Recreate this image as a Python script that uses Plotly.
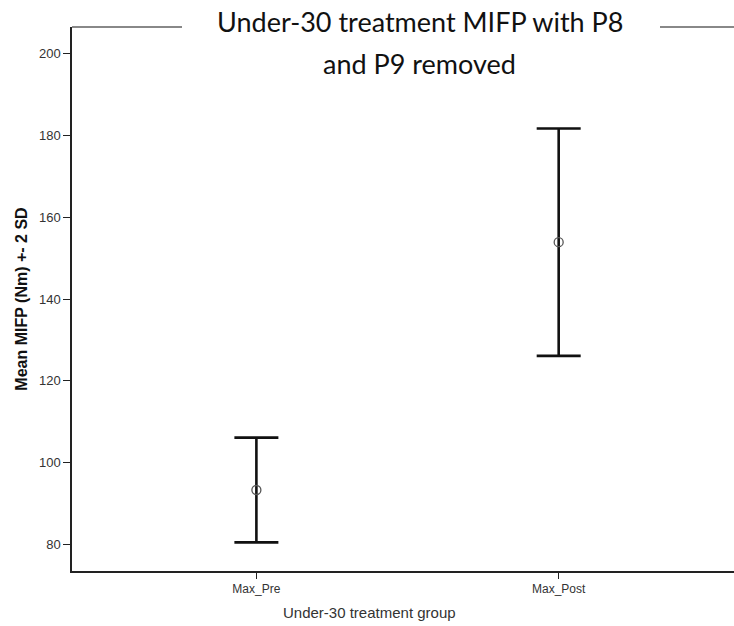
import plotly.graph_objects as go

# Error bar summary: mean MIFP and 2 SD per measurement
categories = ["Max_Pre", "Max_Post"]
means = [93.3, 153.9]
two_sd = [12.8, 27.8]
y_ticks = [80, 100, 120, 140, 160, 180, 200]

title_lines = ["Under-30 treatment MIFP with P8", "and P9 removed"]
x_title = "Under-30 treatment group"
y_title = "Mean MIFP (Nm) +- 2 SD"

W, H = 734, 626
L, R, T, B = 72, 0, 27, 55

fig = go.Figure()
fig.add_trace(go.Scatter(
    x=list(range(len(categories))),
    y=means,
    mode="markers",
    marker=dict(symbol="circle-open", size=9, color="#555555", line=dict(width=1.3)),
    error_y=dict(type="data", array=two_sd, visible=True,
                 color="#111111", thickness=2.6, width=22),
    showlegend=False,
    hoverinfo="skip",
))

sans = "Liberation Sans, Arial, sans-serif"

fig.update_layout(
    width=W, height=H,
    margin=dict(l=L, r=R, t=T, b=B),
    paper_bgcolor="white", plot_bgcolor="white",
    xaxis=dict(
        range=[-0.61, 1.58],
        tickmode="array", tickvals=list(range(len(categories))), ticktext=categories,
        showgrid=False, zeroline=False,
        showline=True, linecolor="#222222", linewidth=1.5,
        ticks="outside", ticklen=6, tickwidth=1.4, tickcolor="#222222",
        tickfont=dict(family=sans, size=12, color="#333333"),
    ),
    yaxis=dict(
        range=[73.5, 206.5],
        tickmode="array", tickvals=y_ticks,
        showgrid=False, zeroline=False,
        showline=True, linecolor="#222222", linewidth=1.5,
        ticks="outside", ticklen=7, tickwidth=1.4, tickcolor="#222222",
        tickfont=dict(family=sans, size=13, color="#333333"),
        title=dict(text=y_title, standoff=7,
                   font=dict(family=sans, size=16, color="#111111", weight="bold")),
    ),
)

# Grey top frame line, interrupted behind the title
gap_left = (182 - L) / (W - L - R)
gap_right = (660 - L) / (W - L - R)
for x0, x1 in [(0, gap_left), (gap_right, 1)]:
    fig.add_shape(type="line", xref="paper", yref="paper", x0=x0, x1=x1, y0=1, y1=1,
                  line=dict(color="#888888", width=2))

title_font = dict(family="Lato, Open Sans, sans-serif", size=27, color="#111111")
for text, ypx in zip(title_lines, [22, 64]):
    fig.add_annotation(text=text, xref="paper", yref="paper",
                       x=(420 - L) / (W - L - R), y=1 + (T - ypx) / (H - T - B),
                       showarrow=False, xanchor="center", yanchor="middle", font=title_font)

fig.add_annotation(text=x_title, xref="paper", yref="paper",
                   x=(369 - L) / (W - L - R), y=-(612 - (H - B)) / (H - T - B),
                   showarrow=False, xanchor="center", yanchor="middle",
                   font=dict(family=sans, size=15, color="#333333"))

fig.write_html("out.html")
